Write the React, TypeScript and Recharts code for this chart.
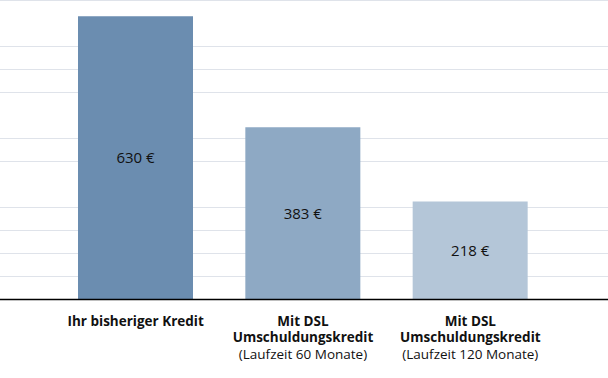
import { BarChart, Bar, XAxis, YAxis, CartesianGrid, Cell, LabelList } from "recharts";

const categories = ["Ihr bisheriger Kredit", "Mit DSL Umschuldungskredit 60", "Mit DSL Umschuldungskredit 120"];
const titleLines = [["Ihr bisheriger Kredit"], ["Mit DSL", "Umschuldungskredit"], ["Mit DSL", "Umschuldungskredit"]];
const subLines = ["", "(Laufzeit 60 Monate)", "(Laufzeit 120 Monate)"];
const rates = [630, 383, 218];
const barColors = ["#6b8db0", "#8ea9c4", "#b4c6d8"];

const yMax = 665;
const gridTicks = Array.from({ length: 14 }, (_, i) => (i * yMax) / 13);

const FONT = "'Open Sans', sans-serif";

const chartData = categories.map((name, i) => ({ name, rate: rates[i] }));

function CategoryTick(props: any) {
  const { x, payload } = props;
  const i = categories.indexOf(payload.value);
  const titles = titleLines[i] || [];
  const sub = subLines[i];
  return (
    <g fontFamily={FONT} fill="#111">
      {titles.map((t, k) => (
        <text key={k} x={x} y={325.5 + k * 16.5} textAnchor="middle" fontSize={13.5} fontWeight={700}>
          {t}
        </text>
      ))}
      {sub && (
        <text x={x} y={359} textAnchor="middle" fontSize={13.5}>
          {sub}
        </text>
      )}
    </g>
  );
}

export default function App() {
  return (
    <div style={{ position: "absolute", left: 0, top: 0, width: 608, height: 378, background: "#fff" }}>
      <BarChart width={608} height={378} data={chartData} margin={{ top: 0.5, right: 0, left: 0, bottom: 0 }}>
        <CartesianGrid horizontal vertical={false} stroke="#dfe3ea" strokeWidth={1} />
        <YAxis hide domain={[0, yMax]} ticks={gridTicks} type="number" />
        <XAxis
          dataKey="name"
          height={78.5}
          padding={{ left: 52, right: 54 }}
          axisLine={{ stroke: "#000", strokeWidth: 1.4 }}
          tickLine={false}
          interval={0}
          tick={<CategoryTick />}
        />
        <Bar dataKey="rate" barSize={115} isAnimationActive={false}>
          {chartData.map((d, i) => (
            <Cell key={d.name} fill={barColors[i]} />
          ))}
          <LabelList
            dataKey="rate"
            position="center"
            formatter={(v: any) => `${v} €`}
            fill="#111"
            fontSize={15}
            fontFamily={FONT}
          />
        </Bar>
      </BarChart>
    </div>
  );
}
